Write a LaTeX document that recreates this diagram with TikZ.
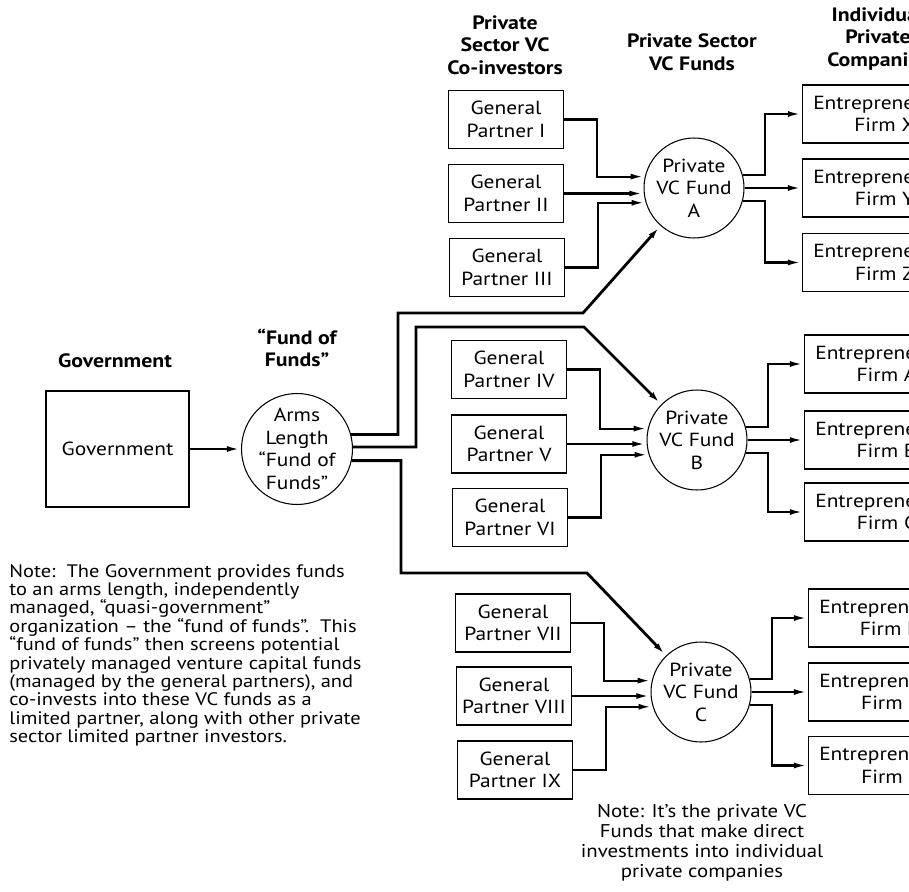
\documentclass[tikz,border=0pt]{standalone}
\usepackage{fontspec}
\setmainfont{PT Sans}[FakeStretch=1.13]
\usetikzlibrary{arrows.meta}
\newcommand\notefont{\fontsize{10.3}{10.45}\selectfont\lineskiplimit=-5pt\relax}

\begin{document}
\begin{tikzpicture}[x=0.02cm,y=-0.02cm,
	txt/.style={font=\fontsize{10.8}{12.8}\selectfont,align=center},
	head/.style={txt,font=\fontsize{11}{12.8}\selectfont\bfseries},
	note/.style={font=\notefont,inner sep=0pt},
	partner/.style={draw,line width=0.8pt,txt,minimum width=2.3cm,minimum height=1.16cm,inner sep=0pt},
	firm/.style={draw,line width=0.8pt,txt,anchor=west,minimum height=1.16cm,inner xsep=6pt},
	fund/.style={draw,circle,line width=0.6pt,txt,minimum size=2cm,inner sep=-6pt},
	feed/.style={line width=1.15pt,-{Latex[length=7pt,width=3.4pt]},shorten >=1pt},
	trunk/.style={feed,line width=1.6pt,line join=miter}]
	\useasboundingbox (0,0) rectangle (909,892);
	\clip (0,0) rectangle (909,892);

	\node[head] (hgov)  at (115,361) {Government};
	\node[head] (hfof)  at (297,348) {“Fund of\\Funds”};
	\node[head] (hgp)   at (505,45)  {Private\\Sector VC\\Co-investors};
	\node[head] (hfund) at (692,52)  {Private Sector\\VC Funds};
	\node[head] (hfirm) at (878,39)  {Individual\\Private\\Companies};

	\node[draw,line width=0.8pt,txt,minimum width=2.86cm,minimum height=2.32cm] (gov) at (117.5,449) {Government};
	\node[fund,minimum size=2.22cm,inner sep=-9pt] (fof) at (297,449) {Arms\\Length\\“Fund of\\Funds”};

	\node[fund] (fundA) at (694,188) {Private\\VC Fund\\A};
	\node[fund] (fundB) at (697,440) {Private\\VC Fund\\B};
	\node[fund] (fundC) at (701,692) {Private\\VC Fund\\C};

	\node[partner] (gp1) at (506,119.5) {General\\Partner I};
	\node[partner] (gp2) at (506,193.5) {General\\Partner II};
	\node[partner] (gp3) at (507,267.5) {General\\Partner III};
	\node[partner] (gp4) at (509,369.5) {General\\Partner IV};
	\node[partner] (gp5) at (509,444)   {General\\Partner V};
	\node[partner] (gp6) at (510,517.5) {General\\Partner VI};
	\node[partner] (gp7) at (513,623)   {General\\Partner VII};
	\node[partner] (gp8) at (514,696)   {General\\Partner VIII};
	\node[partner] (gp9) at (515,770)   {General\\Partner IX};

	\node[firm] (firmX) at (802,114)   {Entrepreneurial\\Firm X};
	\node[firm] (firmY) at (802,188)   {Entrepreneurial\\Firm Y};
	\node[firm] (firmZ) at (802,262.5) {Entrepreneurial\\Firm Z};
	\node[firm] (firmA) at (804,364)   {Entrepreneurial\\Firm A};
	\node[firm] (firmB) at (804,440)   {Entrepreneurial\\Firm B};
	\node[firm] (firmC) at (804,512)   {Entrepreneurial\\Firm C};
	\node[firm] (firmD) at (808,618)   {Entrepreneurial\\Firm D};
	\node[firm] (firmE) at (808,692)   {Entrepreneurial\\Firm E};
	\node[firm] (firmF) at (808,765.5) {Entrepreneurial\\Firm F};

	\node[note,align=left,anchor=north west] (gnote) at (9,564) {Note:\ \ The Government provides funds\\to an arms length, independently\\managed, “quasi-government”\\organization -- the “fund of funds”.\ \ This\\“fund of funds” then screens potential\\privately managed venture capital funds\\(managed by the general partners), and\\co-invests into these VC funds as a\\limited partner, along with other private\\sector limited partner investors.};
	\node[txt,font=\fontsize{10.5}{11.4}\selectfont] (vnote) at (702,843) {Note: It’s the private VC\\Funds that make direct\\investments into individual\\private companies};

	\draw[feed] (gov) -- (fof);
	\draw[trunk] (fof.15) -| (398,313) -- (583,313) -- (fundA);
	\draw[trunk] (fof.2) -| (416,327) -- (584,327) -- (fundB);
	\draw[trunk] (fof.-12) -| (401,573) -- (587,573) -- (fundC);

	\draw[feed] (gp1.east) -- ++(33,0) |- (fundA.167);
	\draw[feed] (gp2) -- (gp2 -| fundA.west);
	\draw[feed] (gp3.east) -- ++(33,0) |- (fundA.197);
	\draw[feed] (gp4.east) -- ++(33,0) |- (fundB.167);
	\draw[feed] (gp5) -- (gp5 -| fundB.west);
	\draw[feed] (gp6.east) -- ++(33,0) |- (fundB.197);
	\draw[feed] (gp7.east) -- ++(33,0) |- (fundC.167);
	\draw[feed] (gp8) -- (gp8 -| fundC.west);
	\draw[feed] (gp9.east) -- ++(33,0) |- (fundC.197);

	\draw[feed] (fundA.15) -- ++(22,0) |- (firmX);
	\draw[feed] (fundA) -- (firmY);
	\draw[feed] (fundA.-15) -- ++(22,0) |- (firmZ);
	\draw[feed] (fundB.15) -- ++(22,0) |- (firmA);
	\draw[feed] (fundB) -- (firmB);
	\draw[feed] (fundB.-15) -- ++(22,0) |- (firmC);
	\draw[feed] (fundC.15) -- ++(22,0) |- (firmD);
	\draw[feed] (fundC) -- (firmE);
	\draw[feed] (fundC.-15) -- ++(22,0) |- (firmF);
\end{tikzpicture}
\end{document}
